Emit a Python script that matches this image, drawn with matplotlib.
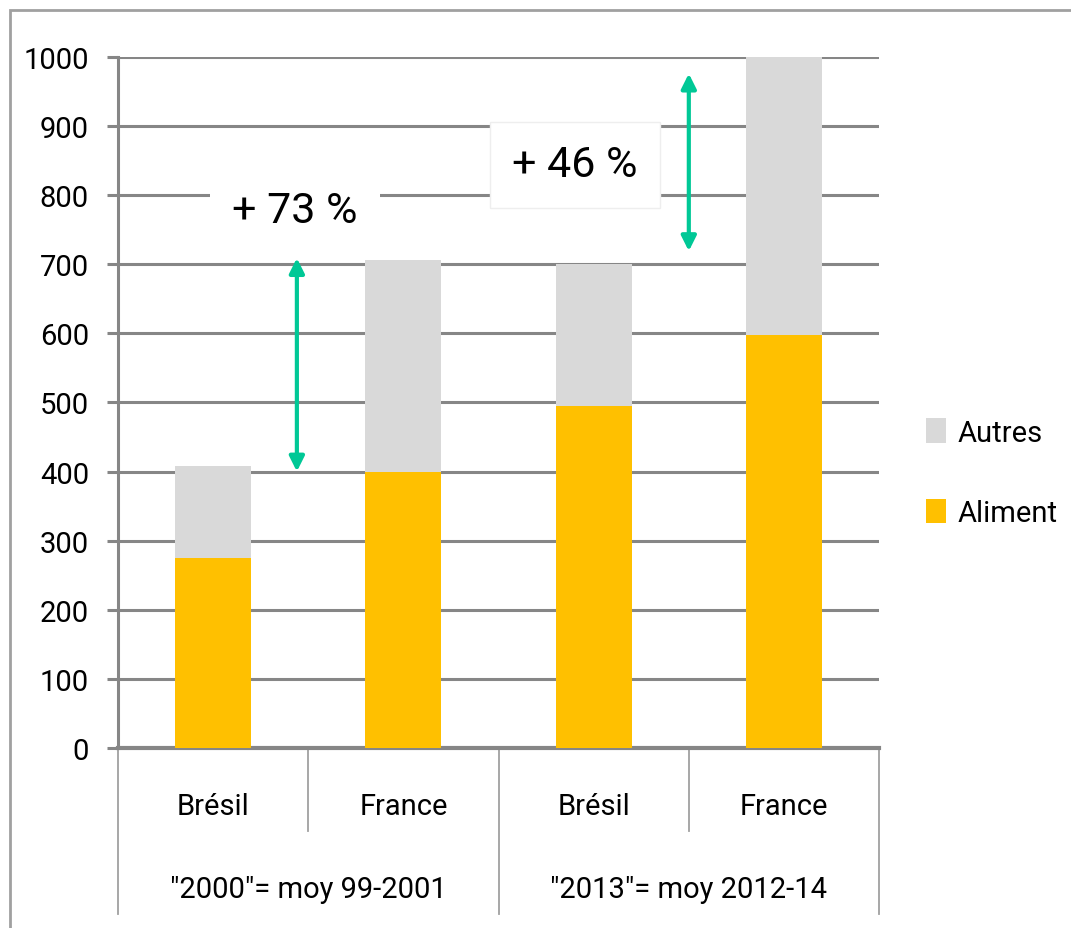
import matplotlib.pyplot as plt
from matplotlib.patches import Rectangle

plt.rcParams['font.family'] = ['Roboto', 'DejaVu Sans']

pays = ["Brésil", "France", "Brésil", "France"]
periodes = ['"2000"= moy 99-2001', '"2013"= moy 2012-14']
aliment = [275, 400, 495, 597]
autres = [133, 306, 205, 403]
hausses = ["+ 73 %", "+ 46 %"]

gris = "#868686"
fig = plt.figure(figsize=(10.71, 9.29), dpi=100)
ax = fig.add_axes([0.1102, 0.1938, 0.7106, 0.7438])

x = range(len(pays))
ax.bar(x, aliment, width=0.4, color="#FFC000", label="Aliment", zorder=3)
ax.bar(x, autres, width=0.4, bottom=aliment, color="#D9D9D9", label="Autres", zorder=3)

ax.set_xlim(-0.5, 3.5)
ax.set_ylim(0, 1000)
ax.set_yticks(range(0, 1001, 100))
ax.yaxis.grid(True, color=gris, linewidth=2.2, zorder=0)
ax.set_axisbelow(True)
for s in ["top", "right"]:
    ax.spines[s].set_visible(False)
ax.spines["left"].set_color(gris)
ax.spines["left"].set_linewidth(2.2)
ax.spines["bottom"].set_color(gris)
ax.spines["bottom"].set_linewidth(3)
ax.tick_params(axis="y", length=8, width=2.2, color=gris, pad=13, labelsize=21)
ax.set_xticks([])

# axe des catégories à deux niveaux
tr = ax.get_xaxis_transform()
for xs, yb in [(-0.5, -0.24), (0.5, -0.12), (1.5, -0.24), (2.5, -0.12), (3.5, -0.24)]:
    ax.plot([xs, xs], [0, yb], color="#a0a0a0", lw=1.3, transform=tr, clip_on=False)
for i, p in enumerate(pays):
    ax.text(i, -0.084, p, transform=tr, ha="center", va="center", fontsize=21)
for i, p in enumerate(periodes):
    ax.text(2 * i + 0.5, -0.204, p, transform=tr, ha="center", va="center", fontsize=21)

# annotations
ax.text(0.43, 778, hausses[0], ha="center", va="center", fontsize=31, zorder=5,
        bbox=dict(facecolor="white", edgecolor="none", pad=16))
ax.text(1.9, 844, hausses[1], ha="center", va="center", fontsize=31, zorder=5,
        bbox=dict(facecolor="white", edgecolor="#eeeeee", pad=16))
vert = "#00C896"
ax.annotate("", xy=(0.44, 713), xytext=(0.44, 396), zorder=6,
            arrowprops=dict(arrowstyle="<|-|>", color=vert, lw=3, mutation_scale=22))
ax.annotate("", xy=(2.5, 980), xytext=(2.5, 715), zorder=6,
            arrowprops=dict(arrowstyle="<|-|>", color=vert, lw=3, mutation_scale=22))

h, l = ax.get_legend_handles_labels()
fig.legend(h[::-1], l[::-1], loc="center left", bbox_to_anchor=(0.84, 0.49),
           frameon=False, fontsize=21, handlelength=0.7, handleheight=0.9,
           handletextpad=0.4, labelspacing=1.8)

fig.patches.append(Rectangle((10 / 1071, -0.1), 1.2, 1 - 11 / 929 + 0.1,
                             transform=fig.transFigure, fill=False,
                             edgecolor="#a0a0a0", lw=2))

fig.savefig("out.png", dpi=100)
